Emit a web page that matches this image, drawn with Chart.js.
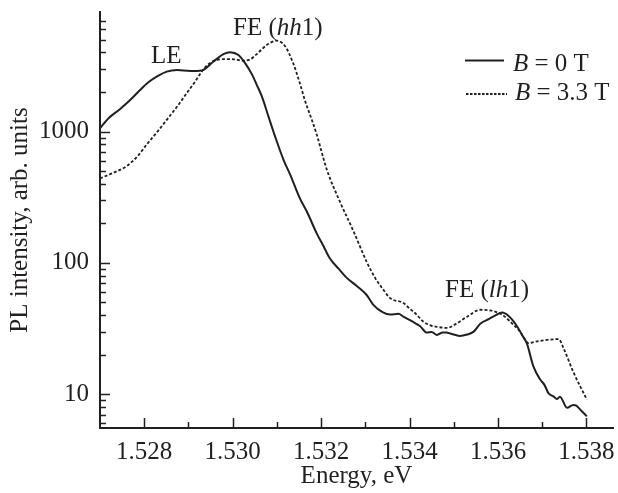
<!DOCTYPE html>
<html>
<head>
<meta charset="utf-8">
<script src="https://cdn.jsdelivr.net/npm/chart.js@4.4.1/dist/chart.umd.min.js"></script>
<style>
  html, body { margin: 0; padding: 0; background: #fff; }
</style>
</head>
<body>
<canvas id="pl-chart" width="618" height="493"></canvas>
<script>
// B = 0 T (solid)
const energyB0 = [1.52700, 1.52720, 1.52745, 1.52770, 1.52790, 1.52810, 1.52830, 1.52851, 1.52874, 1.52904,
  1.52930, 1.52956, 1.52979, 1.52994, 1.53013, 1.53030, 1.53043, 1.53055, 1.53066, 1.53081,
  1.53096, 1.53115, 1.53130, 1.53152, 1.53168, 1.53190, 1.53205, 1.53220, 1.53240, 1.53258,
  1.53280, 1.53303, 1.53318, 1.53340, 1.53356, 1.53375, 1.53386, 1.53405, 1.53424, 1.53439,
  1.53450, 1.53462, 1.53475, 1.53484, 1.53500, 1.53514, 1.53530, 1.53545, 1.53560, 1.53580,
  1.53595, 1.53609, 1.53624, 1.53643, 1.53655, 1.53665, 1.53680, 1.53695, 1.53705, 1.53714,
  1.53726, 1.53733, 1.53740, 1.53756, 1.53770, 1.53777, 1.53790, 1.53801];
const intensityB0 = [1060, 1270, 1480, 1760, 2060, 2380, 2640, 2860, 2940, 2890,
  2920, 3400, 3880, 4020, 3830, 3250, 2750, 2250, 1850, 1300,
  916, 609, 470, 310, 245, 168, 135, 108, 90, 77,
  67, 57, 48, 42, 40.5, 41, 39, 36, 33, 29.5,
  29.8, 28.3, 29.6, 29.5, 28.5, 27.8, 28.5, 30, 34.5, 37.5,
  40, 42, 39.5, 33, 28, 24.5, 16.3, 13, 11.8, 10.2,
  9.6, 9.2, 9.6, 7.9, 8.3, 8.2, 7.4, 6.8];

// B = 3.3 T (dotted)
const energyB33 = [1.52700, 1.52730, 1.52760, 1.52785, 1.52806, 1.52830, 1.52851, 1.52875, 1.52896, 1.52915,
  1.52930, 1.52945, 1.52964, 1.52985, 1.53002, 1.53024, 1.53040, 1.53055, 1.53077, 1.53100,
  1.53119, 1.53137, 1.53150, 1.53164, 1.53179, 1.53190, 1.53213, 1.53243, 1.53273, 1.53303,
  1.53322, 1.53340, 1.53356, 1.53386, 1.53400, 1.53416, 1.53430, 1.53447, 1.53465, 1.53484,
  1.53507, 1.53530, 1.53560, 1.53582, 1.53609, 1.53635, 1.53650, 1.53669, 1.53688, 1.53737,
  1.53748, 1.53771, 1.53801];
const intensityB33 = [440, 485, 545, 650, 800, 1000, 1228, 1560, 1960, 2400,
  2860, 3250, 3510, 3560, 3550, 3460, 3550, 3900, 4560, 4920,
  4440, 3300, 2450, 1700, 1228, 950, 512, 290, 175, 102,
  77, 63, 54, 49.5, 45, 40.4, 36, 33.5, 32.5, 32,
  34.7, 39, 44, 43.5, 40.4, 33.8, 30, 24.5, 25.3, 26.3,
  22.5, 14.6, 9.1];

const xTickLabels = [1.528, 1.530, 1.532, 1.534, 1.536, 1.538];
const yTickLabels = [10, 100, 1000];

const ink = '#231f20';
const serif = '"Liberation Serif", "Times New Roman", serif';
const textSize = 25;

function toPoints(xs, ys) {
  return xs.map((x, i) => ({ x: x, y: ys[i] }));
}

// draw a run of text pieces, some italic
function drawRich(ctx, parts, x, y) {
  let cx = x;
  parts.forEach(p => {
    ctx.font = (p[1] ? 'italic ' : '') + textSize + 'px ' + serif;
    ctx.fillText(p[0], cx, y);
    cx += ctx.measureText(p[0]).width;
  });
}

const decorations = {
  id: 'decorations',
  afterDraw(chart) {
    const ctx = chart.ctx;
    const xs = chart.scales.x;
    const ys = chart.scales.y;
    const area = chart.chartArea;
    ctx.save();
    ctx.strokeStyle = ink;
    ctx.fillStyle = ink;
    ctx.lineWidth = 1.5;

    // inward tick marks on x
    for (let i = 1528; i <= 1538; i++) {
      const px = Math.round(xs.getPixelForValue(i / 1000)) + 0.5;
      const len = i % 2 === 0 ? 10 : 6;
      ctx.beginPath();
      ctx.moveTo(px, area.bottom);
      ctx.lineTo(px, area.bottom - len);
      ctx.stroke();
    }
    // inward tick marks on y
    [1, 10, 100, 1000].forEach(dec => {
      for (let m = 1; m <= 9; m++) {
        const v = m * dec;
        if (v <= ys.min || v >= ys.max) continue;
        const py = Math.round(ys.getPixelForValue(v)) + 0.5;
        if (py < area.top + 4) continue;
        const len = m === 1 ? 10 : 6;
        ctx.beginPath();
        ctx.moveTo(area.left, py);
        ctx.lineTo(area.left + len, py);
        ctx.stroke();
      }
    });

    // labels on the curves
    ctx.textBaseline = 'alphabetic';
    ctx.textAlign = 'left';
    drawRich(ctx, [['LE', false]], area.left + 51, 63);
    drawRich(ctx, [['FE (', false], ['hh', true], ['1)', false]], area.left + 133, 35);
    drawRich(ctx, [['FE (', false], ['lh', true], ['1)', false]], area.left + 345, 297);

    // legend
    ctx.lineWidth = 2;
    ctx.beginPath();
    ctx.moveTo(area.left + 365, 60.5);
    ctx.lineTo(area.left + 404, 60.5);
    ctx.stroke();
    ctx.setLineDash([2.5, 1.5]);
    ctx.lineWidth = 1.8;
    ctx.beginPath();
    ctx.moveTo(area.left + 366, 94);
    ctx.lineTo(area.left + 407, 94);
    ctx.stroke();
    ctx.setLineDash([]);
    drawRich(ctx, [['B', true], [' = 0 T', false]], area.left + 413, 71);
    drawRich(ctx, [['B', true], [' = 3.3 T', false]], area.left + 415, 100);
    ctx.restore();
  }
};

new Chart(document.getElementById('pl-chart'), {
  type: 'line',
  data: {
    datasets: [{
      label: 'B = 0 T',
      data: toPoints(energyB0, intensityB0),
      borderColor: ink,
      borderWidth: 2,
      pointRadius: 0,
      cubicInterpolationMode: 'monotone'
    },
    {
      label: 'B = 3.3 T',
      data: toPoints(energyB33, intensityB33),
      borderColor: ink,
      borderWidth: 1.8,
      borderDash: [3, 2],
      pointRadius: 0,
      cubicInterpolationMode: 'monotone'
    }]
  },
  options: {
    responsive: false,
    animation: false,
    layout: { padding: { top: 12, right: 5, left: 0, bottom: 0 } },
    plugins: {
      legend: { display: false },
      tooltip: { enabled: false }
    },
    scales: {
      x: {
        type: 'linear',
        min: 1.527,
        max: 1.5386,
        afterFit(scale) {
          scale.height = 65;
          scale.paddingLeft = 0;
          scale.paddingRight = 0;
        },
        afterBuildTicks(scale) { scale.ticks = xTickLabels.map(v => ({ value: v })); },
        grid: { drawOnChartArea: false, drawTicks: false },
        border: { display: true, color: ink, width: 2 },
        ticks: {
          callback: v => v.toFixed(3),
          color: ink,
          padding: 9,
          maxRotation: 0,
          autoSkip: false,
          font: { family: serif, size: textSize }
        },
        title: {
          display: true,
          text: 'Energy, eV',
          color: ink,
          padding: { top: 0, bottom: 4 },
          font: { family: serif, size: textSize, lineHeight: 1 }
        }
      },
      y: {
        type: 'logarithmic',
        min: 5.54,
        max: 8130,
        afterFit(scale) {
          scale.width = 100;
          scale.paddingTop = 0;
          scale.paddingBottom = 0;
        },
        afterBuildTicks(scale) { scale.ticks = yTickLabels.map(v => ({ value: v })); },
        grid: { drawOnChartArea: false, drawTicks: false },
        border: { display: true, color: ink, width: 2 },
        ticks: {
          callback: v => String(v),
          color: ink,
          padding: 11,
          autoSkip: false,
          font: { family: serif, size: textSize }
        },
        title: {
          display: true,
          text: 'PL intensity, arb. units',
          color: ink,
          padding: { top: 8, bottom: 0 },
          font: { family: serif, size: textSize, lineHeight: 1 }
        }
      }
    }
  },
  plugins: [decorations]
});
</script>
</body>
</html>
